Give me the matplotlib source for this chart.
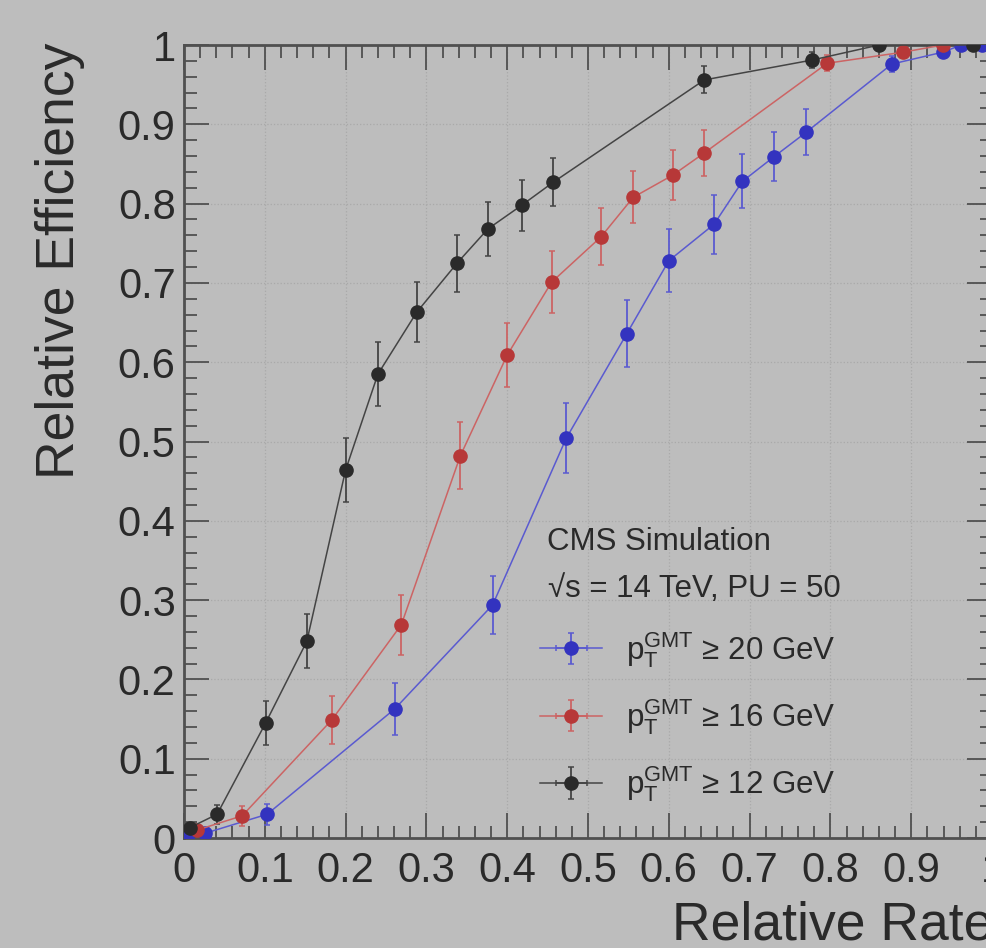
import numpy as np
import matplotlib
matplotlib.use('Agg')
import matplotlib.pyplot as plt
from matplotlib.ticker import MultipleLocator

plt.rcParams['font.family'] = ['Liberation Sans', 'DejaVu Sans']
plt.rcParams['mathtext.fontset'] = 'custom'
plt.rcParams['mathtext.rm'] = 'Liberation Sans'
plt.rcParams['mathtext.it'] = 'Liberation Sans'

# pT >= 20 GeV (blue)
rate_20 = [0.004, 0.026, 0.103, 0.261, 0.382, 0.473, 0.548, 0.600, 0.656, 0.691,
           0.730, 0.770, 0.876, 0.939, 0.962, 0.988]
eff_20 = [0.000, 0.006, 0.030, 0.163, 0.294, 0.504, 0.636, 0.728, 0.774, 0.828,
          0.859, 0.890, 0.976, 0.991, 1.000, 1.000]
eff_err_20 = [0.003, 0.004, 0.013, 0.033, 0.037, 0.044, 0.042, 0.040, 0.037, 0.034,
              0.031, 0.029, 0.010, 0.005, 0.002, 0.001]
rate_err_20 = [0.003, 0.004, 0.004, 0.005, 0.006, 0.006, 0.006, 0.005, 0.005, 0.005,
               0.005, 0.005, 0.005, 0.004, 0.003, 0.002]

# pT >= 16 GeV (red)
rate_16 = [0.016, 0.072, 0.183, 0.269, 0.342, 0.400, 0.455, 0.516, 0.556, 0.605,
           0.644, 0.796, 0.890, 0.939]
eff_16 = [0.010, 0.028, 0.149, 0.269, 0.482, 0.609, 0.701, 0.758, 0.808, 0.836,
          0.864, 0.977, 0.991, 1.000]
eff_err_16 = [0.005, 0.013, 0.030, 0.038, 0.042, 0.040, 0.039, 0.036, 0.033, 0.031,
              0.029, 0.010, 0.005, 0.002]
rate_err_16 = [0.002, 0.003, 0.004, 0.004, 0.005, 0.005, 0.005, 0.005, 0.005, 0.005,
               0.005, 0.005, 0.004, 0.003]

# pT >= 12 GeV (black)
rate_12 = [0.007, 0.041, 0.101, 0.152, 0.200, 0.240, 0.288, 0.338, 0.376, 0.418,
           0.457, 0.644, 0.777, 0.860, 0.976]
eff_12 = [0.013, 0.030, 0.145, 0.248, 0.464, 0.585, 0.663, 0.725, 0.768, 0.798,
          0.827, 0.956, 0.981, 1.000, 1.000]
eff_err_12 = [0.005, 0.012, 0.028, 0.034, 0.040, 0.040, 0.038, 0.036, 0.034, 0.032,
              0.030, 0.017, 0.010, 0.003, 0.002]
rate_err_12 = [0.001, 0.002, 0.002, 0.002, 0.003, 0.003, 0.003, 0.003, 0.003, 0.003,
               0.003, 0.003, 0.003, 0.002, 0.002]

labels = [r'$\mathregular{p_{T}^{GMT}}$ ≥ 20 GeV',
          r'$\mathregular{p_{T}^{GMT}}$ ≥ 16 GeV',
          r'$\mathregular{p_{T}^{GMT}}$ ≥ 12 GeV']

x_ticks = [0, 0.1, 0.2, 0.3, 0.4, 0.5, 0.6, 0.7, 0.8, 0.9, 1.0]
x_tick_labels = ['0', '0.1', '0.2', '0.3', '0.4', '0.5', '0.6', '0.7', '0.8', '0.9', '1']
y_ticks = x_ticks
y_tick_labels = x_tick_labels

bg = '#bdbdbd'
frame = '#505050'
ink = '#2a2a2a'

fig = plt.figure(figsize=(9.87, 9.48), dpi=100)
fig.set_facecolor(bg)
ax = fig.add_axes([0.1864, 0.116, 0.8187, 0.8365])
ax.set_facecolor(bg)

series = [
    (rate_20, eff_20, rate_err_20, eff_err_20, '#3333bf', '#5a5ad0'),
    (rate_16, eff_16, rate_err_16, eff_err_16, '#b73838', '#cc6464'),
    (rate_12, eff_12, rate_err_12, eff_err_12, '#2a2a2a', '#444444'),
]
handles = []
for (xs, ys, xe, ye, mcol, lcol) in series:
    h = ax.errorbar(xs, ys, xerr=xe, yerr=ye, fmt='o', color=lcol,
                    mfc=mcol, mec=mcol, ms=9.5, elinewidth=1.3, capsize=2.5,
                    capthick=1.1, lw=1.1, ls='-', zorder=3)
    handles.append(h)

ax.set_xlim(0, 1)
ax.set_ylim(0, 1)
ax.set_xticks(x_ticks)
ax.set_xticklabels(x_tick_labels)
ax.set_yticks(y_ticks)
ax.set_yticklabels(y_tick_labels)
ax.xaxis.set_minor_locator(MultipleLocator(0.02))
ax.yaxis.set_minor_locator(MultipleLocator(0.02))
ax.tick_params(which='both', direction='in', top=True, right=True,
               color=frame, width=1.3, labelsize=30, labelcolor=ink)
ax.tick_params(which='major', length=18, pad=9)
ax.tick_params(which='minor', length=9)
ax.tick_params(axis='y', pad=6)
for s in ax.spines.values():
    s.set_color(frame)
    s.set_linewidth(2)
ax.grid(True, which='major', color='#a9a9a9', ls=':', lw=0.9)
ax.set_axisbelow(True)

fig.text(35 / 987, 1 - 43 / 948, 'Relative Efficiency', rotation=90,
         ha='left', va='top', fontsize=38.5, color=ink)
fig.text(1.006, 1 - 940 / 948, 'Relative Rate', ha='right', va='baseline',
         fontsize=38.5, color=ink)

fig.text(547 / 987, 1 - 550 / 948, 'CMS Simulation', fontsize=22.5,
         color=ink, va='baseline')
fig.text(548 / 987, 1 - 597 / 948, '√s = 14 TeV, PU = 50', fontsize=22.5,
         color=ink, va='baseline')

ax.legend(handles, labels, loc='upper left', bbox_to_anchor=(540 / 987, 1 - 630 / 948),
          bbox_transform=fig.transFigure, frameon=False, fontsize=22.5,
          handlelength=2.0, handletextpad=0.75, labelspacing=0.88,
          labelcolor=ink, borderpad=0, borderaxespad=0)

fig.savefig('out.png', dpi=100, facecolor=bg)
